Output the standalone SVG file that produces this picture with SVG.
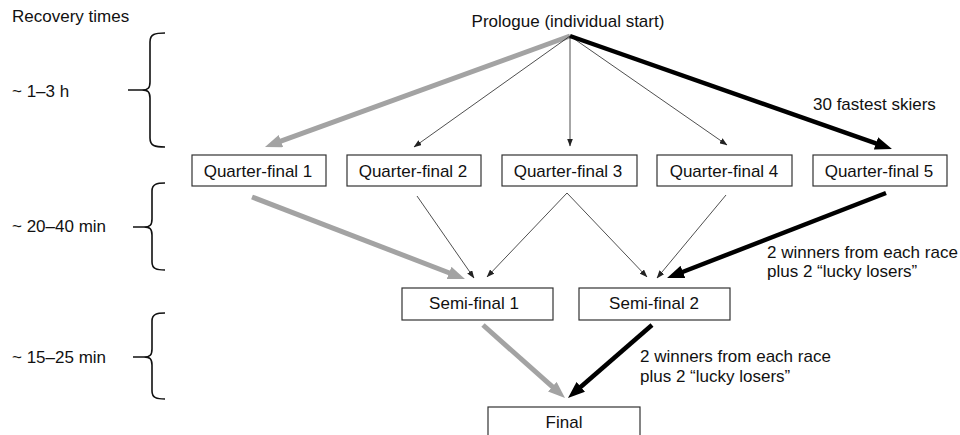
<svg xmlns="http://www.w3.org/2000/svg" width="960" height="435" viewBox="0 0 960 435">
<style>
text{font-family:"Liberation Sans",Arial,sans-serif;font-size:17px;fill:#111}
.c{text-anchor:middle}
.box{fill:#fff;stroke:#333;stroke-width:1.2}
.brace{fill:none;stroke:#111;stroke-width:1.6}
.thin{stroke:#222;stroke-width:0.8;fill:none;marker-end:url(#hs)}
.gray{stroke:#a3a3a3;stroke-width:5;fill:none;marker-end:url(#hg)}
.black{stroke:#000;stroke-width:4.5;fill:none;marker-end:url(#hb)}
</style>
<defs>
<marker id="hs" markerUnits="userSpaceOnUse" markerWidth="8" markerHeight="6" refX="7.5" refY="3" orient="auto"><path d="M0,0 L8,3 L0,6 z" fill="#222"/></marker>
<marker id="hg" markerUnits="userSpaceOnUse" markerWidth="17" markerHeight="13" refX="6" refY="6.5" orient="auto"><path d="M0,0 L17,6.5 L0,13 z" fill="#a3a3a3"/></marker>
<marker id="hb" markerUnits="userSpaceOnUse" markerWidth="17" markerHeight="13" refX="6" refY="6.5" orient="auto"><path d="M0,0 L17,6.5 L0,13 z" fill="#000"/></marker>
</defs>
<rect width="960" height="435" fill="#fff"/>

<g id="recovery">
<text x="12" y="22">Recovery times</text>
<text x="12" y="97">~ 1–3 h</text>
<text x="12" y="232">~ 20–40 min</text>
<text x="12" y="363">~ 15–25 min</text>
<path class="brace" d="M165,33 C155,33 150,34 150,42 L150,82 C150,88 148,90 142,90 L128,90 M142,90 C148,90 150,92 150,98 L150,138 C150,146 155,147 165,147"/>
<path class="brace" d="M165,183 C157,183 152,184 152,191 L152,219 C152,225 150,227 144,227 L133,227 M144,227 C150,227 152,229 152,235 L152,262 C152,269 157,270 165,270"/>
<path class="brace" d="M165,313 C157,313 152,314 152,321 L152,349 C152,355 150,357 144,357 L133,357 M144,357 C150,357 152,359 152,365 L152,391 C152,398 157,399 165,399"/>
</g>

<g id="connectors">
<line class="gray" x1="570" y1="36" x2="275.3" y2="143.2"/>
<line class="thin" x1="570" y1="36" x2="414" y2="147"/>
<line class="thin" x1="570" y1="36" x2="570" y2="146"/>
<line class="thin" x1="570" y1="36" x2="727" y2="145"/>
<line class="black" x1="570" y1="36" x2="881.6" y2="145.4"/>
<line class="gray" x1="252" y1="197" x2="454.7" y2="275"/>
<line class="thin" x1="417" y1="196" x2="474" y2="278"/>
<line class="thin" x1="567" y1="193" x2="487" y2="277"/>
<line class="thin" x1="567" y1="193" x2="647" y2="277"/>
<line class="thin" x1="726" y1="195" x2="657" y2="278"/>
<line class="black" x1="886" y1="193" x2="677.3" y2="274"/>
<line class="gray" x1="483" y1="325" x2="556.8" y2="390.7"/>
<line class="black" x1="652" y1="325" x2="576.3" y2="390.8"/>
<text x="813" y="110">30 fastest skiers</text>
<text x="767" y="258">2 winners from each race</text>
<text x="767" y="277">plus 2 “lucky losers”</text>
<text x="640" y="362">2 winners from each race</text>
<text x="640" y="382">plus 2 “lucky losers”</text>
</g>

<g id="prologue"><text class="c" x="568" y="27">Prologue (individual start)</text></g>
<g id="qf1"><rect class="box" x="192" y="155" width="134" height="31"/><text class="c" x="258" y="177">Quarter-final 1</text></g>
<g id="qf2"><rect class="box" x="347" y="155" width="134" height="31"/><text class="c" x="413" y="177">Quarter-final 2</text></g>
<g id="qf3"><rect class="box" x="502" y="155" width="135" height="31"/><text class="c" x="568" y="177">Quarter-final 3</text></g>
<g id="qf4"><rect class="box" x="657" y="155" width="135" height="31"/><text class="c" x="724" y="177">Quarter-final 4</text></g>
<g id="qf5"><rect class="box" x="813" y="155" width="134" height="31"/><text class="c" x="879" y="177">Quarter-final 5</text></g>
<g id="sf1"><rect class="box" x="402" y="288" width="151" height="32"/><text class="c" x="474" y="309">Semi-final 1</text></g>
<g id="sf2"><rect class="box" x="579" y="288" width="151" height="32"/><text class="c" x="654" y="309">Semi-final 2</text></g>
<g id="final"><rect class="box" x="488" y="407" width="152" height="34"/><text class="c" x="564" y="428">Final</text></g>
</svg>
